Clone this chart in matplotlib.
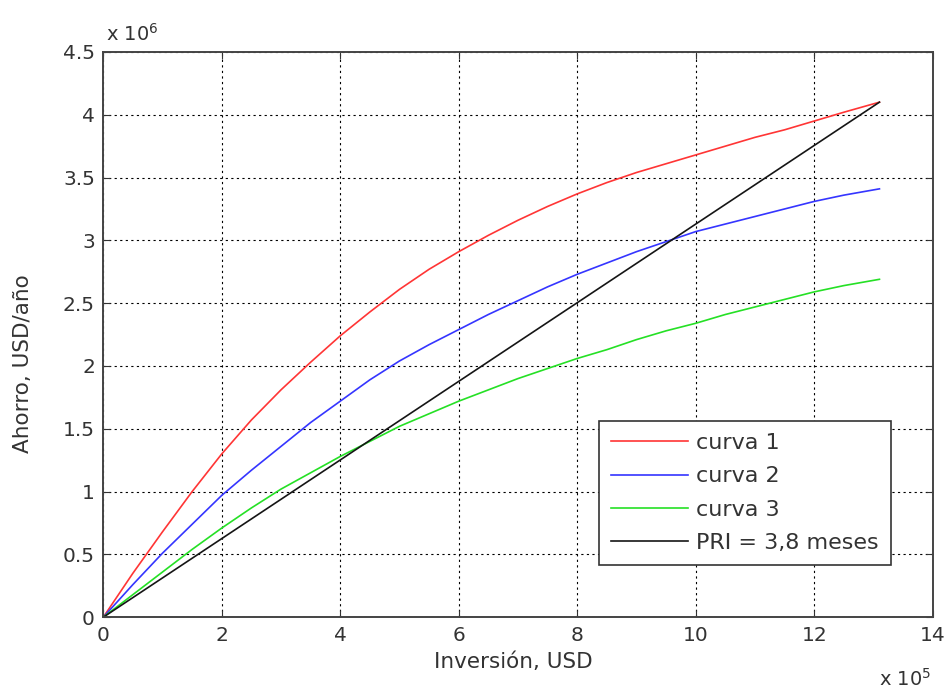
import matplotlib
matplotlib.use("Agg")
import matplotlib.pyplot as plt
import numpy as np

# inversion (x 1e5 USD) and ahorro (x 1e6 USD/ano)
inversion = [0, 0.5, 1, 1.5, 2, 2.5, 3, 3.5, 4, 4.5, 5, 5.5, 6, 6.5, 7,
             7.5, 8, 8.5, 9, 9.5, 10, 10.5, 11, 11.5, 12, 12.5, 13.1]
curva1 = [0, 0.35, 0.68, 1.00, 1.30, 1.57, 1.81, 2.03, 2.24, 2.43, 2.61,
          2.77, 2.91, 3.04, 3.16, 3.27, 3.37, 3.46, 3.54, 3.61, 3.68, 3.75,
          3.82, 3.88, 3.95, 4.02, 4.10]
curva2 = [0, 0.26, 0.51, 0.74, 0.97, 1.17, 1.36, 1.55, 1.72, 1.89, 2.04,
          2.17, 2.29, 2.41, 2.52, 2.63, 2.73, 2.82, 2.91, 2.99, 3.07, 3.13,
          3.19, 3.25, 3.31, 3.36, 3.41]
curva3 = [0, 0.18, 0.36, 0.54, 0.71, 0.87, 1.02, 1.15, 1.28, 1.40, 1.52,
          1.62, 1.72, 1.81, 1.90, 1.98, 2.06, 2.13, 2.21, 2.28, 2.34, 2.41,
          2.47, 2.53, 2.59, 2.64, 2.69]
pri_x = [0, 13.1]
pri_y = [0, 4.10]

labels = ["curva 1", "curva 2", "curva 3", "PRI = 3,8 meses"]
colors = ["#ff3535", "#3535ff", "#25e025", "#151515"]

xticks = [0, 2, 4, 6, 8, 10, 12, 14]
yticks = [0, 0.5, 1, 1.5, 2, 2.5, 3, 3.5, 4, 4.5]
ytick_labels = ["0", "0.5", "1", "1.5", "2", "2.5", "3", "3.5", "4", "4.5"]

plt.rcParams["font.family"] = ["DejaVu Sans"]

fig = plt.figure(figsize=(9.47, 6.92), dpi=100)
ax = fig.add_axes([0.109, 0.108, 0.876, 0.817])

for y, c, lab in zip([curva1, curva2, curva3], colors[:3], labels[:3]):
    ax.plot(inversion, y, color=c, lw=1.2, label=lab)
ax.plot(pri_x, pri_y, color=colors[3], lw=1.2, label=labels[3])

ax.set_xlim(0, 14)
ax.set_ylim(0, 4.5)
ax.set_xticks(xticks)
ax.set_yticks(yticks)
ax.set_yticklabels(ytick_labels)
ax.grid(True, color="black", ls=(0, (2, 3)), lw=0.8)
ax.tick_params(direction="in", top=True, right=True, labelsize=14.5,
               length=5, colors="#333333", pad=6)
for s in ax.spines.values():
    s.set_linewidth(1.4)
    s.set_color("#444444")

ax.set_xlabel("Inversión, USD", fontsize=15.5, color="#333333")
ax.set_ylabel("Ahorro, USD/año", fontsize=15.5, color="#333333")
ax.xaxis.set_label_coords(0.494, -0.062)
ax.yaxis.set_label_coords(-0.085, 0.448)

ax.text(0.003, 1.012, r"x 10$^{6}$", transform=ax.transAxes, fontsize=14,
        color="#333333", ha="left", va="bottom")
ax.text(0.998, -0.09, r"x 10$^{5}$", transform=ax.transAxes, fontsize=14,
        color="#333333", ha="right", va="top")

leg = ax.legend(loc="lower right", bbox_to_anchor=(0.9495, 0.092), fontsize=16,
                frameon=True, fancybox=False, handlelength=3.47,
                borderpad=0.55, labelspacing=0.6, handletextpad=0.36,
                borderaxespad=0)
leg.get_frame().set_edgecolor("#333333")
leg.get_frame().set_linewidth(1.2)
leg.get_frame().set_alpha(1)
for t in leg.get_texts():
    t.set_color("#333333")

fig.savefig("out.png", dpi=100)
plt.close(fig)
